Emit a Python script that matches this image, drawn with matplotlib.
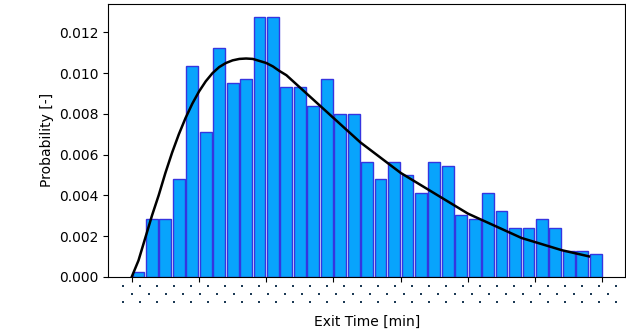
import numpy as np
import matplotlib
matplotlib.use("Agg")
import matplotlib.pyplot as plt

# histogram of exit times (bin width 5 min), density values
bin_left = np.arange(0, 175, 5)
prob = [0.00025, 0.00284, 0.00284, 0.0048, 0.01036, 0.00712, 0.01126, 0.00951,
        0.00971, 0.01276, 0.01276, 0.00933, 0.00933, 0.0084, 0.00971, 0.0080,
        0.0080, 0.00563, 0.00479, 0.00563, 0.0050, 0.00413, 0.00563, 0.00546,
        0.00303, 0.00284, 0.00413, 0.00323, 0.00238, 0.00238, 0.00284, 0.00238,
        0.00128, 0.00128, 0.0011]

# fitted distribution curve
fit_t = [0, 2.5, 5, 7.5, 10, 12.5, 15, 17.5, 20, 22.5, 25, 27.5, 30, 32.5, 35,
         37.5, 40, 42.5, 45, 47.5, 50, 52.5, 55, 57.5, 60, 62.5, 65, 67.5, 70,
         75, 80, 85, 90, 95, 100, 105, 110, 115, 120, 125, 130, 135, 140, 145,
         150, 155, 160, 165, 170]
fit_p = [0.0, 0.0008, 0.0019, 0.0030, 0.0040, 0.0051, 0.0061, 0.0070, 0.0078,
         0.0085, 0.0091, 0.0096, 0.0100, 0.0103, 0.0105, 0.01063, 0.0107,
         0.01072, 0.0107, 0.0106, 0.0105, 0.01033, 0.0101, 0.0099, 0.0096,
         0.0093, 0.0090, 0.0087, 0.0084, 0.0078, 0.0072, 0.0066, 0.0061,
         0.0056, 0.0051, 0.0047, 0.0043, 0.0039, 0.0035, 0.0031, 0.0028,
         0.0025, 0.0022, 0.0019, 0.0017, 0.0015, 0.0013, 0.00115, 0.0010]

fig = plt.figure(figsize=(6.26, 3.34), dpi=100)
ax = fig.add_axes([0.173, 0.1715, 0.8255, 0.8165])

ax.bar(bin_left + 2.5, prob, width=4.4, color='#08a4fc', edgecolor='#3535e0', linewidth=1)
ax.plot(fit_t, fit_p, color='black', linewidth=1.8)

ax.set_xticks(np.arange(0, 176, 25))
ax.set_xticklabels([])
ax.set_ylabel('Probability [-]')
ax.set_xlabel('Exit Time [min]')
ax.xaxis.set_label_coords(0.5, -0.14)
ax.set_yticks(np.arange(0, 0.0121, 0.002))

# dotted band where the tick labels would be
ov = fig.add_axes([0, 0, 1, 1], facecolor='none')
ov.set_xlim(0, 626)
ov.set_ylim(334, 0)
ov.axis('off')
for row_y, start, n in [(285.7, 123.3, 30), (294, 132, 29), (302, 123.3, 30)]:
    xs = start + 17 * np.arange(n)
    ov.scatter(xs, np.full(n, row_y), s=2.6, marker='s', color='#1c3a55', linewidths=0)

fig.savefig('out.png', dpi=100)
